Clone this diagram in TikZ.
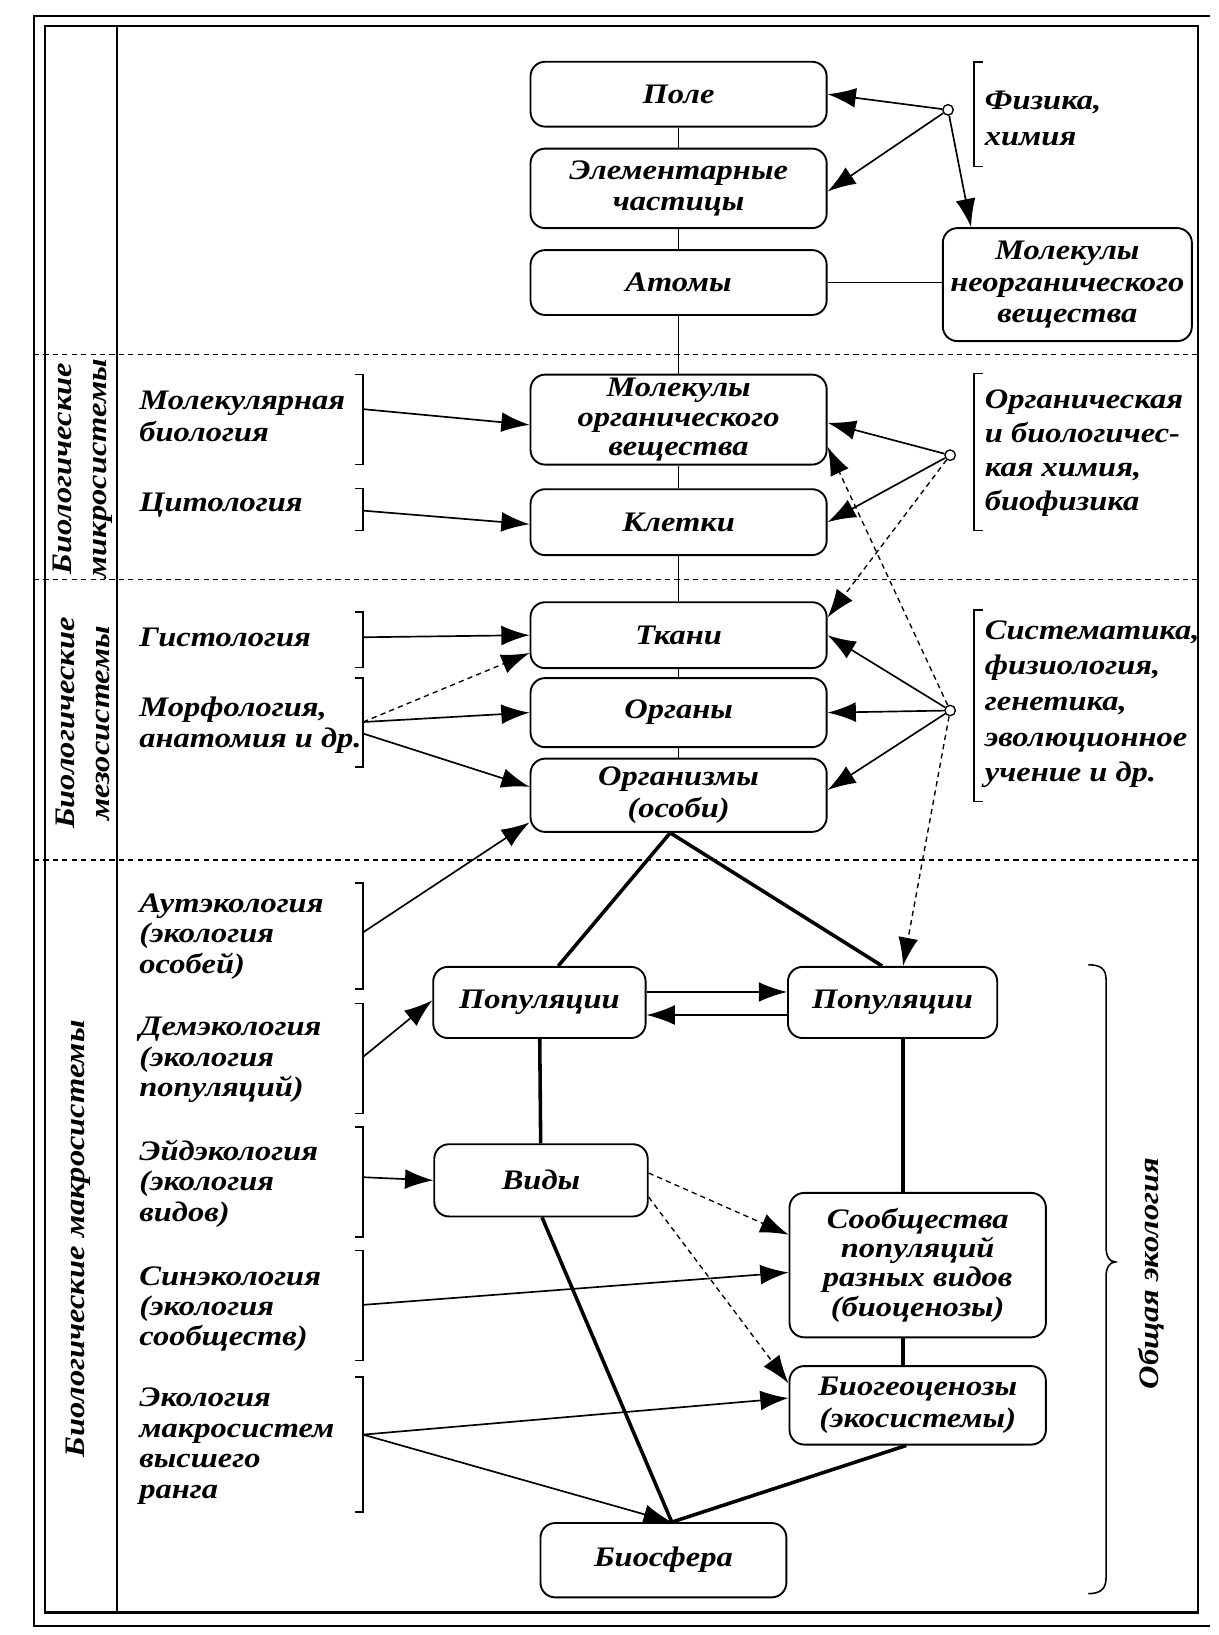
\documentclass[tikz,border=0pt]{standalone}
\usepackage{fontspec}
\setmainfont{Liberation Serif}[FakeStretch=1.15]
\usetikzlibrary{arrows.meta,calc}
\begin{document}
\begin{tikzpicture}[x=1pt,y=-1pt,
  every node/.style={font=\fontsize{27}{30}\selectfont\bfseries\itshape},
  box/.style={draw, line width=1.8pt, rounded corners=14pt, minimum width=283pt, inner sep=2pt, align=center},
  lnk/.style={line width=1.6pt},
  thk/.style={line width=3.4pt},
  arr/.style={line width=1.6pt, -{Latex[length=27pt,width=19pt]}},
  darr/.style={line width=1.3pt, dash pattern=on 5pt off 4pt, -{Latex[length=27pt,width=19pt]}},
  hub/.style={circle, draw, fill=white, line width=1.3pt, inner sep=0pt, minimum size=10pt},
  brk/.style={line width=1.5pt},
  txt/.style={align=left, anchor=west, inner sep=0pt},
  sep/.style={line width=1.3pt, dash pattern=on 5pt off 4pt},
  frm/.style={line width=2pt}]
\useasboundingbox (0,0) rectangle (1164,1562.5);

% frames
\draw[frm] (1156,15.3) -- (32.5,15.3) -- (32.5,1554) -- (1156,1554);
\draw[frm] (43,24.8) rectangle (1145,1541);
\draw[frm] (112,24.8) -- (112,1541);
\draw[sep] (32.5,339) -- (1145,339);
\draw[sep] (32.5,554) -- (1145,554);
\draw[sep] (32.5,822) -- (1145,822);

% rotated labels
\node[rotate=90, align=center, font=\fontsize{27}{33}\selectfont\bfseries\itshape] (micro) at (79,448) {Биологические\\микросистемы};
\node[rotate=90, align=center, font=\fontsize{27}{33}\selectfont\bfseries\itshape] (meso) at (79,691) {Биологические\\мезосистемы};
\node[rotate=90] (macro) at (75,1184) {Биологические макросистемы};
\node[rotate=90] (obsh) at (1100,1217) {Общая экология};

% main boxes
\node[box, minimum height=62pt] (pole) at (648.5,90) {Поле};
\node[box, minimum height=76pt] (elem) at (648.5,180) {Элементарные\\частицы};
\node[box, minimum height=62pt] (atom) at (648.5,270) {Атомы};
\node[box, minimum width=238pt, minimum height=108pt] (neorg) at (1020,272) {Молекулы\\неорганического\\вещества};
\node[box, minimum height=86pt, font=\fontsize{27}{28}\selectfont\bfseries\itshape] (org) at (648.5,401) {Молекулы\\органического\\вещества};
\node[box, minimum height=63pt] (kl) at (648.5,499) {Клетки};
\node[box, minimum height=63pt] (tk) at (648.5,607) {Ткани};
\node[box, minimum height=66pt] (organ) at (648.5,681) {Органы};
\node[box, minimum height=70pt] (orgm) at (648.5,760) {Организмы\\(особи)};
\node[box, minimum width=203pt, minimum height=68pt] (popL) at (515.5,958) {Популяции};
\node[box, minimum width=200pt, minimum height=68pt] (popR) at (853,958) {Популяции};
\node[box, minimum width=204pt, minimum height=69pt] (vid) at (517,1128) {Виды};
\node[box, minimum width=245pt, minimum height=138pt, font=\fontsize{27}{28}\selectfont\bfseries\itshape] (soob) at (877,1209) {Сообщества\\популяций\\разных видов\\(биоценозы)};
\node[box, minimum width=245pt, minimum height=75pt] (biogeo) at (877,1343) {Биогеоценозы\\(экосистемы)};
\node[box, minimum width=235pt, minimum height=71pt] (bios) at (634,1491) {Биосфера};

% left texts
\node[txt] (tMol) at (133,398) {Молекулярная\\биология};
\node[txt] (tCit) at (133,483) {Цитология};
\node[txt] (tGis) at (133,609) {Гистология};
\node[txt] (tMor) at (133,693) {Морфология,\\анатомия и др.};
\node[txt, font=\fontsize{27}{29}\selectfont\bfseries\itshape] (tAut) at (133,895) {Аутэкология\\(экология\\особей)};
\node[txt, font=\fontsize{27}{29}\selectfont\bfseries\itshape] (tDem) at (133,1013) {Демэкология\\(экология\\популяций)};
\node[txt, font=\fontsize{27}{29}\selectfont\bfseries\itshape] (tEid) at (133,1131) {Эйдэкология\\(экология\\видов)};
\node[txt, font=\fontsize{27}{29}\selectfont\bfseries\itshape] (tSin) at (133,1251) {Синэкология\\(экология\\сообществ)};
\node[txt, font=\fontsize{27}{29}\selectfont\bfseries\itshape] (tEko) at (133,1382) {Экология\\макросистем\\высшего\\ранга};

% right texts
\node[txt, font=\fontsize{27}{35}\selectfont\bfseries\itshape] (tFiz) at (941,113) {Физика,\\химия};
\node[txt, font=\fontsize{27}{32.5}\selectfont\bfseries\itshape] (tOrg) at (941,433) {Органическая\\и биологичес-\\кая химия,\\биофизика};
\node[txt, font=\fontsize{27}{34}\selectfont\bfseries\itshape] (tSis) at (941,673) {Систематика,\\физиология,\\генетика,\\эволюционное\\учение и др.};

% left brackets
\draw[brk] (339,358) -- (347,358) -- (347,444) -- (339,444);
\draw[brk] (339,467) -- (347,467) -- (347,507) -- (339,507);
\draw[brk] (339,585) -- (347,585) -- (347,638) -- (339,638);
\draw[brk] (339,648) -- (347,648) -- (347,733) -- (339,733);
\draw[brk] (339,844) -- (347,844) -- (347,945) -- (339,945);
\draw[brk] (339,959) -- (347,959) -- (347,1064) -- (339,1064);
\draw[brk] (339,1077) -- (347,1077) -- (347,1182) -- (339,1182);
\draw[brk] (339,1195) -- (347,1195) -- (347,1300) -- (339,1300);
\draw[brk] (339,1316) -- (347,1316) -- (347,1445) -- (339,1445);
% right brackets
\draw[brk] (939,59) -- (931,59) -- (931,159) -- (939,159);
\draw[brk] (939,357) -- (931,357) -- (931,507) -- (939,507);
\draw[brk] (939,583) -- (931,583) -- (931,766) -- (939,766);
% brace
\draw[brk] (1040,922) .. controls (1052,922) and (1057,926) .. (1057,936) -- (1057,1192)
  .. controls (1057,1200) and (1060,1206) .. (1066,1206)
  .. controls (1060,1206) and (1057,1212) .. (1057,1220) -- (1057,1508)
  .. controls (1057,1518) and (1052,1523) .. (1040,1523);

% bracket points
\coordinate (cMol) at (347,391);
\coordinate (cCit) at (347,488);
\coordinate (cGis) at (347,609);
\coordinate (cMor) at (347,690);
\coordinate (cMor2) at (347,701);
\coordinate (cAut) at (347,891);
\coordinate (cDem) at (347,1010);
\coordinate (cEid) at (347,1125);
\coordinate (cSin) at (347,1247);
\coordinate (cEko) at (347,1371);

% thin vertical chain
\draw[lnk] (pole) -- (elem);
\draw[lnk] (elem) -- (atom);
\draw[lnk] (atom) -- (org);
\draw[lnk] (org) -- (kl);
\draw[lnk] (kl) -- (tk);
\draw[lnk] (tk) -- (organ);
\draw[lnk] (organ) -- (orgm);
\draw[lnk] (atom.east) -- (atom.east -| neorg.west);

% hubs
\node[hub] (h1) at (906,105) {};
\node[hub] (h2) at (908,435) {};
\node[hub] (h3) at (908,679) {};

\draw[arr] (h1) -- (pole.east);
\draw[arr] (h1) -- ([yshift=-3pt]elem.east);
\draw[arr] (h1) -- ([xshift=-92pt]neorg.north);
\draw[arr] (h2) -- ([yshift=-3pt]org.east);
\draw[arr] (h2) -- (kl.east);
\draw[darr] (h2) -- ([yshift=17pt]tk.east);
\draw[arr] (h3) -- (tk.east);
\draw[arr] (h3) -- (organ.east);
\draw[arr] (h3) -- ([yshift=5pt]orgm.east);
\draw[darr] (h3) -- ([yshift=-26pt]org.east);
\draw[darr] (h3) -- ([xshift=10pt]popR.north);

% left arrows
\draw[arr] (cMol) -- ([yshift=-5pt]org.west);
\draw[arr] (cCit) -- ([yshift=-2pt]kl.west);
\draw[arr] (cGis) -- (tk.west);
\draw[darr] (cMor) -- ([yshift=-17pt]tk.west);
\draw[arr] (cMor) -- (organ.west);
\draw[arr] (cMor2) -- ([yshift=8pt]orgm.west);
\draw[arr] (cAut) -- ([yshift=10pt]orgm.south west);
\draw[arr] (cDem) -- ([yshift=2pt]popL.west);
\draw[arr] (cEid) -- (vid.west);
\draw[arr] (cSin) -- ([yshift=-7pt]soob.west);
\draw[arr] (cEko) -- ([yshift=7pt]biogeo.west);
\draw[arr] (cEko) -- ([xshift=8pt]bios.north);

% populations exchange
\draw[arr] ([yshift=10pt]popL.east) -- ([yshift=10pt]popR.west);
\draw[arr] ([yshift=-12pt]popR.west) -- ([yshift=-12pt]popL.east);

% dashed from species
\draw[darr] ([yshift=7pt]vid.east) -- ([yshift=29pt]soob.west);
\draw[darr] ([yshift=-16pt]vid.east) -- ([yshift=21pt]biogeo.west);

% thick lines
\draw[thk] ([xshift=-8pt]orgm.south) -- ([xshift=18pt]popL.north);
\draw[thk] ([xshift=-8pt]orgm.south) -- ([xshift=-10pt]popR.north);
\draw[thk] (popL) -- (vid);
\draw[thk] ([xshift=10pt]popR.south) -- ([xshift=10pt]popR.south |- soob.north);
\draw[thk] ([xshift=-14pt]soob.south) -- ([xshift=-14pt]biogeo.north);
\draw[thk] ([xshift=1pt]vid.south) -- ([xshift=8pt]bios.north);
\draw[thk] ([xshift=-11pt]biogeo.south) -- ([xshift=8pt]bios.north);
\end{tikzpicture}
\end{document}
